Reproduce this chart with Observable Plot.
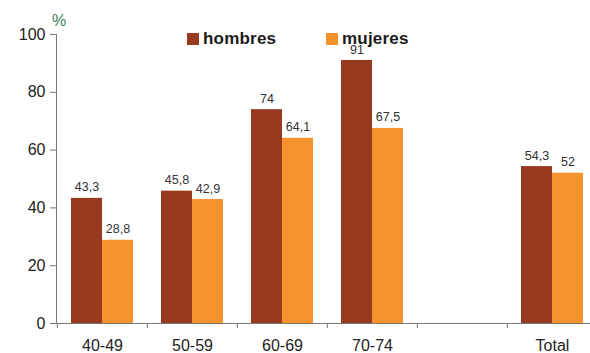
<!DOCTYPE html>
<html>
<head>
<meta charset="utf-8">
<script src="https://cdn.jsdelivr.net/npm/d3@7"></script>
<script src="https://cdn.jsdelivr.net/npm/@observablehq/plot@0.6"></script>
<style>
  html, body { margin: 0; padding: 0; background: #fff; overflow: hidden; }
  #wrap { position: relative; width: 590px; height: 353px; overflow: hidden; font-family: "Liberation Sans", Arial, sans-serif; }
  #unit { position: absolute; left: 52px; top: 12px; font-size: 16px; color: #3f7d5c; }
  .leg { position: absolute; top: 29px; display: flex; align-items: center; font-size: 17px; font-weight: bold; color: #1a1a1a; letter-spacing: 0.2px; }
  .leg i { display: inline-block; width: 12px; height: 12px; margin-right: 4px; }
</style>
</head>
<body>
<div id="wrap">
  <div id="chart"></div>
  <div id="unit">%</div>
  <div class="leg" style="left:187px"><i style="background:#973a1f"></i>hombres</div>
  <div class="leg" style="left:326px"><i style="background:#f7932d"></i>mujeres</div>
</div>
<script>
// Age groups (one empty slot before the total)
const categories = ["40-49", "50-59", "60-69", "70-74", "", "Total"];
const groups = ["40-49", "50-59", "60-69", "70-74", "Total"];
const hombres = [43.3, 45.8, 74, 91, 54.3];
const mujeres = [28.8, 42.9, 64.1, 67.5, 52];
const yTicks = [0, 20, 40, 60, 80, 100];

const colors = { hombres: "#973a1f", mujeres: "#f7932d" };

const rowsH = groups.map((g, i) => ({ group: g, value: hombres[i] }));
const rowsM = groups.map((g, i) => ({ group: g, value: mujeres[i] }));

const fmt = v => String(v).replace(".", ",");

const width = 590, marginLeft = 56, marginRight = -8;
const padding = 0.314;
const step = (width - marginRight - marginLeft) / categories.length;
const half = step * (1 - padding) / 2;

const chart = Plot.plot({
  width,
  height: 353,
  marginLeft,
  marginRight,
  marginTop: 34,
  marginBottom: 30,
  style: { fontFamily: "'Liberation Sans', Arial, sans-serif", background: "transparent", overflow: "hidden" },
  x: { domain: categories, paddingInner: padding, paddingOuter: padding / 2, axis: null },
  y: { domain: [0, 100], axis: null },
  marks: [
    Plot.barY(rowsH, { x: "group", y: "value", fill: colors.hombres, insetRight: half }),
    Plot.barY(rowsM, { x: "group", y: "value", fill: colors.mujeres, insetLeft: half }),
    Plot.text(rowsH, { x: "group", y: "value", text: d => fmt(d.value), dx: -half / 2, dy: -7, lineAnchor: "bottom", fontSize: 12.5, fill: "#333" }),
    Plot.text(rowsM, { x: "group", y: "value", text: d => fmt(d.value), dx: half / 2, dy: -7, lineAnchor: "bottom", fontSize: 12.5, fill: "#333" }),
    Plot.frame({ anchor: "left", stroke: "#777" }),
    Plot.ruleY([0], { stroke: "#777" }),
    Plot.axisY({ ticks: yTicks, tickSize: 6, tickPadding: 5, fontSize: 16, color: "#222", stroke: "#777", label: null }),
    Plot.axisX({ tickSize: 5, tickFormat: () => "", dx: -step / 2, stroke: "#777", label: null }),
    Plot.axisX({ tickSize: 0, tickPadding: 16, fontSize: 16, color: "#222", label: null })
  ]
});

document.getElementById("chart").append(chart);
</script>
</body>
</html>
